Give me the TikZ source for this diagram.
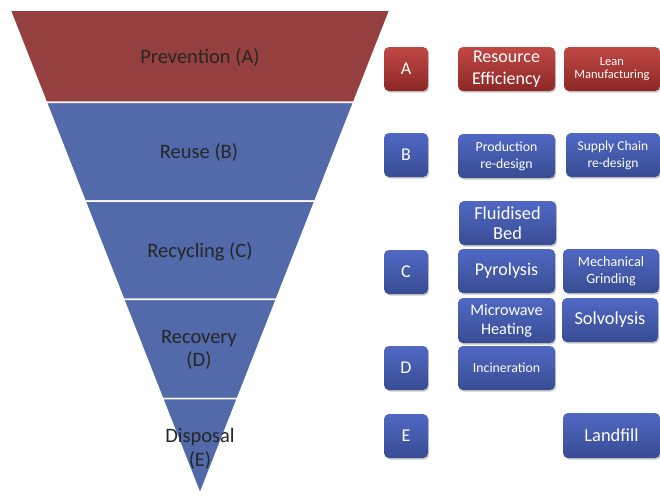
\documentclass[tikz,border=0pt]{standalone}
\usepackage{fontspec}
\setmainfont{Carlito}
\usetikzlibrary{calc,shadows}
\definecolor{bandred}{RGB}{149,64,62}
\definecolor{bandblue}{RGB}{82,105,170}
\definecolor{redtop}{RGB}{192,72,68}
\definecolor{redbot}{RGB}{140,40,38}
\definecolor{bluetop}{RGB}{80,104,196}
\definecolor{bluebot}{RGB}{56,76,146}
\tikzset{
  band/.style={draw=white,line width=1.6pt,line join=miter},
  bandlabel/.style={text=black!85,align=center,font=\fontsize{20.5}{23.5}\selectfont},
  box/.style={rounded corners=5pt,minimum height=44pt,inner sep=1pt,align=center,text=white,
    drop shadow={shadow xshift=1.2pt,shadow yshift=-1.6pt,opacity=0.35,fill=black!60}},
  redbox/.style={box,top color=redtop,bottom color=redbot},
  bluebox/.style={box,top color=bluetop,bottom color=bluebot},
  letterbox/.style={minimum width=44pt,font=\fontsize{18}{20}\selectfont},
  widebox/.style={minimum width=97pt},
}
\begin{document}
\begin{tikzpicture}[x=1pt,y=-1pt]
\useasboundingbox[fill=white] (0,0) rectangle (660,496);
\coordinate (TL) at (10,10);
\coordinate (TR) at (390,10);
\coordinate (AP) at (200,494);
% outer faint edge
\draw[black!25,line width=0.8pt] (TL) -- (AP) -- (TR);
% band boundaries
\foreach \n/\t in {0/0,1/0.191,2/0.395,3/0.598,4/0.803}{
  \coordinate (L\n) at ($(TL)!\t!(AP)$);
  \coordinate (R\n) at ($(TR)!\t!(AP)$);
}
\filldraw[band,fill=bandred] (L0) -- (R0) -- (R1) -- (L1) -- cycle;
\filldraw[band,fill=bandblue] (L1) -- (R1) -- (R2) -- (L2) -- cycle;
\filldraw[band,fill=bandblue] (L2) -- (R2) -- (R3) -- (L3) -- cycle;
\filldraw[band,fill=bandblue] (L3) -- (R3) -- (R4) -- (L4) -- cycle;
\filldraw[band,fill=bandblue] (L4) -- (R4) -- (AP) -- cycle;

\node[bandlabel] (prev) at (200,57) {Prevention (A)};
\node[bandlabel] (reuse) at (199,152) {Reuse (B)};
\node[bandlabel] (recyc) at (200,252) {Recycling (C)};
\node[bandlabel] (recov) at (199,350) {Recovery\\(D)};
\node[bandlabel] (disp) at (200,449) {Disposal\\(E)};

% letter boxes
\node[redbox,letterbox] (A) at (406,69) {A};
\node[bluebox,letterbox] (B) at (406,155) {B};
\node[bluebox,letterbox] (C) at (406,272) {C};
\node[bluebox,letterbox] (D) at (406,368) {D};
\node[bluebox,letterbox] (E) at (406,436) {E};

% method boxes
\node[redbox,widebox,font=\fontsize{18}{22}\selectfont] (res) at (506.5,69) {Resource\\Efficiency};
\node[redbox,minimum width=96pt,font=\fontsize{12.5}{13.5}\selectfont] (lean) at (612,69) {Lean\\Manufacturing};
\node[bluebox,widebox,font=\fontsize{13.8}{17}\selectfont] (prod) at (506.5,156) {Production\\re-design};
\node[bluebox,minimum width=94pt,font=\fontsize{13.5}{17}\selectfont] (supply) at (613,155) {Supply Chain\\re-design};
\node[bluebox,widebox,font=\fontsize{18.4}{20}\selectfont] (fluid) at (507.5,223) {Fluidised\\Bed};
\node[bluebox,widebox,font=\fontsize{18}{20}\selectfont] (pyro) at (506.5,271) {Pyrolysis};
\node[bluebox,minimum width=96pt,font=\fontsize{14.2}{17}\selectfont] (mech) at (611,271) {Mechanical\\Grinding};
\node[bluebox,widebox,minimum height=45pt,font=\fontsize{16.2}{19}\selectfont] (micro) at (506.5,320.5) {Microwave\\Heating};
\node[bluebox,minimum width=96pt,font=\fontsize{18.3}{20}\selectfont] (solvo) at (610,320) {Solvolysis};
\node[bluebox,widebox,font=\fontsize{13.8}{16}\selectfont] (incin) at (506.5,368) {Incineration};
\node[bluebox,widebox,minimum height=45pt,font=\fontsize{18.4}{20}\selectfont] (land) at (611.5,435.5) {Landfill};
\end{tikzpicture}
\end{document}
